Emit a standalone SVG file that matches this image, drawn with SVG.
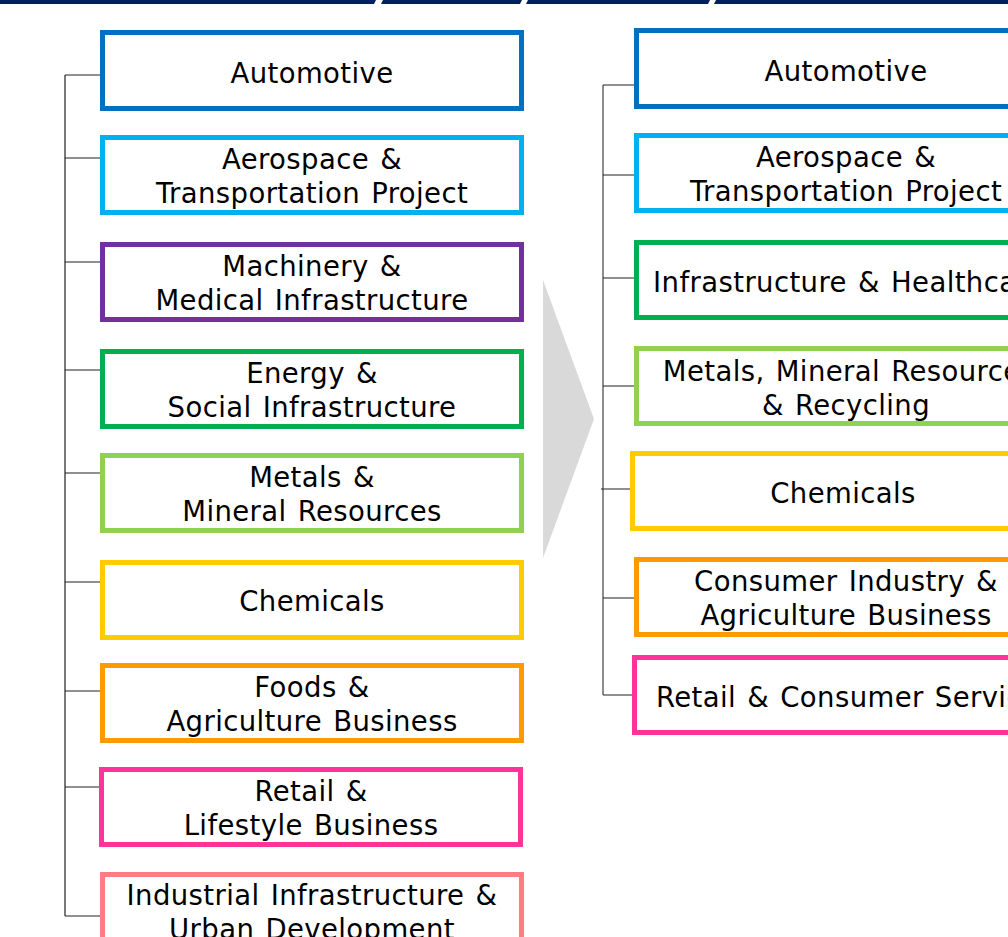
<svg xmlns="http://www.w3.org/2000/svg" width="1008" height="937" viewBox="0 0 1008 937">
<style>
.box{fill:#fff;stroke-width:5}
.t{font-family:"DejaVu Sans","Liberation Sans",sans-serif;font-size:27.5px;fill:#000;text-anchor:middle;letter-spacing:0.4px;word-spacing:2px}
.c{stroke:#222;stroke-width:1.2;fill:none}
.cg{stroke:#666;stroke-width:1.5;fill:none}
</style>
<rect width="1008" height="937" fill="#fff"/>
<g id="topbar" fill="#002060">
<polygon points="0,0 376,0 374,4 0,4"/>
<polygon points="383,0 522,0 520,4 381,4"/>
<polygon points="528,0 710,0 708,4 526,4"/>
<polygon points="716,0 1008,0 1008,4 714,4"/>
</g>
<g id="connectors">
<path class="c" d="M65,75 V916 M65,75 H100 M65,158 H100 M65,262 H100 M65,370 H100 M65,473 H100 M65,582 H100 M65,691 H100 M65,787 H99 M65,916 H100"/>
<path class="cg" d="M603,85 V695"/>
<path class="c" d="M603,85 H634 M603,175 H634 M603,278 H634 M603,386 H634 M601,489 H630 M603,598 H634 M603,695 H632"/>
</g>
<g id="arrow"><polygon points="543,280 594,419 543,558" fill="#d9d9d9"/></g>
<g id="L1"><rect class="box" x="102.5" y="32.5" width="419" height="76" stroke="#0070c0"/><text class="t" x="312" y="83">Automotive</text></g>
<g id="L2"><rect class="box" x="102.5" y="137.5" width="419" height="75" stroke="#00b0f0"/><text class="t" x="312" y="169">Aerospace &amp;</text><text class="t" x="312" y="203">Transportation Project</text></g>
<g id="L3"><rect class="box" x="102.5" y="244.5" width="419" height="75" stroke="#7030a0"/><text class="t" x="312" y="276">Machinery &amp;</text><text class="t" x="312" y="310">Medical Infrastructure</text></g>
<g id="L4"><rect class="box" x="102.5" y="351.5" width="419" height="75" stroke="#00b050"/><text class="t" x="312" y="383">Energy &amp;</text><text class="t" x="312" y="417">Social Infrastructure</text></g>
<g id="L5"><rect class="box" x="102.5" y="455.5" width="419" height="75" stroke="#92d050"/><text class="t" x="312" y="487">Metals &amp;</text><text class="t" x="312" y="521">Mineral Resources</text></g>
<g id="L6"><rect class="box" x="102.5" y="562.5" width="419" height="75" stroke="#ffcc00"/><text class="t" x="312" y="611">Chemicals</text></g>
<g id="L7"><rect class="box" x="102.5" y="665.5" width="419" height="75" stroke="#ff9900"/><text class="t" x="312" y="697">Foods &amp;</text><text class="t" x="312" y="731">Agriculture Business</text></g>
<g id="L8"><rect class="box" x="101.5" y="769.5" width="419" height="75" stroke="#ff3399"/><text class="t" x="311" y="801">Retail &amp;</text><text class="t" x="311" y="835">Lifestyle Business</text></g>
<g id="L9"><rect class="box" x="102.5" y="874.5" width="419" height="75" stroke="#ff7c80"/><text class="t" x="312" y="905">Industrial Infrastructure &amp;</text><text class="t" x="312" y="939">Urban Development</text></g>
<g id="R1"><rect class="box" x="636.5" y="30.5" width="419" height="76" stroke="#0070c0"/><text class="t" x="846" y="81">Automotive</text></g>
<g id="R2"><rect class="box" x="636.5" y="135.5" width="419" height="75" stroke="#00b0f0"/><text class="t" x="846" y="167">Aerospace &amp;</text><text class="t" x="846" y="201">Transportation Project</text></g>
<g id="R3"><rect class="box" x="636.5" y="242.5" width="419" height="75" stroke="#00b050"/><text class="t" x="849" y="292">Infrastructure &amp; Healthcare</text></g>
<g id="R4"><rect class="box" x="636.5" y="348.5" width="419" height="75" stroke="#92d050"/><text class="t" x="849" y="381">Metals, Mineral Resources</text><text class="t" x="846" y="415">&amp; Recycling</text></g>
<g id="R5"><rect class="box" x="632.5" y="453.5" width="419" height="75" stroke="#ffcc00"/><text class="t" x="843" y="503">Chemicals</text></g>
<g id="R6"><rect class="box" x="636.5" y="559.5" width="419" height="75" stroke="#ff9900"/><text class="t" x="846" y="591">Consumer Industry &amp;</text><text class="t" x="846" y="625">Agriculture Business</text></g>
<g id="R7"><rect class="box" x="634.5" y="657.5" width="419" height="75" stroke="#ff3399"/><text class="t" x="855" y="707">Retail &amp; Consumer Services</text></g>
</svg>
